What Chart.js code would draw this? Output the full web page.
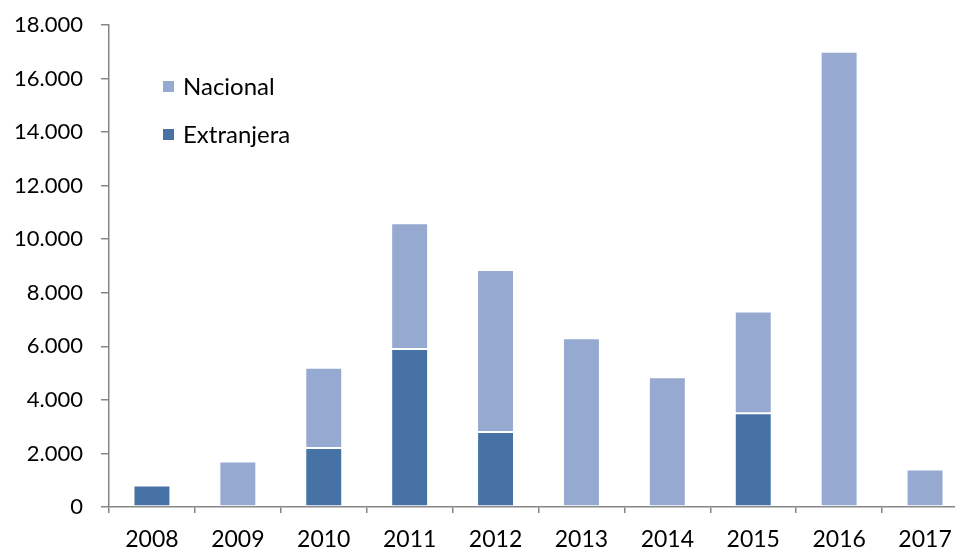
<!DOCTYPE html>
<html>
<head>
<meta charset="utf-8">
<script src="https://cdn.jsdelivr.net/npm/chart.js@4.4.1/dist/chart.umd.min.js"></script>
<style>
  html, body { margin: 0; padding: 0; background: #fff; overflow: hidden; }
  #wrap { width: 970px; height: 549px; }
</style>
</head>
<body>
<div id="wrap"><canvas id="graph"></canvas></div>
<script>
const years = ['2008', '2009', '2010', '2011', '2012', '2013', '2014', '2015', '2016', '2017'];
const extranjera = [800, 0, 2200, 5900, 2800, 0, 0, 3500, 0, 0];
const nacional = [0, 1700, 3000, 4700, 6050, 6300, 4850, 3800, 17000, 1400];
const yTicks = [0, 2000, 4000, 6000, 8000, 10000, 12000, 14000, 16000, 18000];

const FONT = 'Lato, "Open Sans", sans-serif';

function fmt(v) {
    return String(v).replace(/\B(?=(\d{3})+(?!\d))/g, '.');
}

// legend drawn inside the plot, top left, stacked vertically
const insideLegend = {
    id: 'insideLegend',
    afterDraw(chart) {
        const ctx = chart.ctx;
        const items = [chart.data.datasets[1], chart.data.datasets[0]];
        ctx.save();
        ctx.font = '24px ' + FONT;
        ctx.textBaseline = 'middle';
        items.forEach((ds, i) => {
            const y = 87 + i * 48;
            ctx.fillStyle = ds.backgroundColor;
            ctx.fillRect(163, y - 6, 11, 11);
            ctx.fillStyle = '#000';
            ctx.fillText(ds.label, 183, y);
        });
        ctx.restore();
    }
};

window.addEventListener('DOMContentLoaded', () => {
    const graph = document.getElementById('graph');
    new Chart(graph, {
        type: 'bar',
        data: {
            labels: years,
            datasets: [
                {
                    label: 'Extranjera',
                    data: extranjera,
                    backgroundColor: '#4672A6',
                    borderColor: '#ffffff',
                    borderWidth: 1,
                    borderSkipped: false,
                    barPercentage: 0.43,
                    categoryPercentage: 1
                },
                {
                    label: 'Nacional',
                    data: nacional,
                    backgroundColor: '#95A9D1',
                    borderColor: '#ffffff',
                    borderWidth: 1,
                    borderSkipped: false,
                    barPercentage: 0.43,
                    categoryPercentage: 1
                }
            ]
        },
        options: {
            responsive: true,
            maintainAspectRatio: false,
            animation: false,
            layout: { padding: { top: 25, right: 2, left: 0, bottom: 0 } },
            plugins: {
                legend: { display: false },
                tooltip: { enabled: false }
            },
            scales: {
                x: {
                    stacked: true,
                    afterFit: (axis) => { axis.height = 42; },
                    border: { color: '#868686', width: 1.5 },
                    grid: { drawOnChartArea: false, drawTicks: true, tickLength: 6, offset: true, color: '#868686', lineWidth: 1.5 },
                    ticks: { color: '#000', font: { family: FONT, size: 23 }, padding: 13, maxRotation: 0 }
                },
                y: {
                    stacked: true,
                    min: 0,
                    max: 18000,
                    afterBuildTicks: (axis) => { axis.ticks = yTicks.map(v => ({ value: v })); },
                    afterFit: (axis) => { axis.width = 109; axis.paddingTop = 0; axis.paddingBottom = 0; },
                    border: { color: '#868686', width: 1.5 },
                    grid: { drawOnChartArea: false, drawTicks: true, tickLength: 8, color: '#868686', lineWidth: 1.5 },
                    ticks: { color: '#000', font: { family: FONT, size: 22 }, padding: 18, callback: (v) => fmt(v) }
                }
            }
        },
        plugins: [insideLegend]
    });
});
</script>
</body>
</html>
